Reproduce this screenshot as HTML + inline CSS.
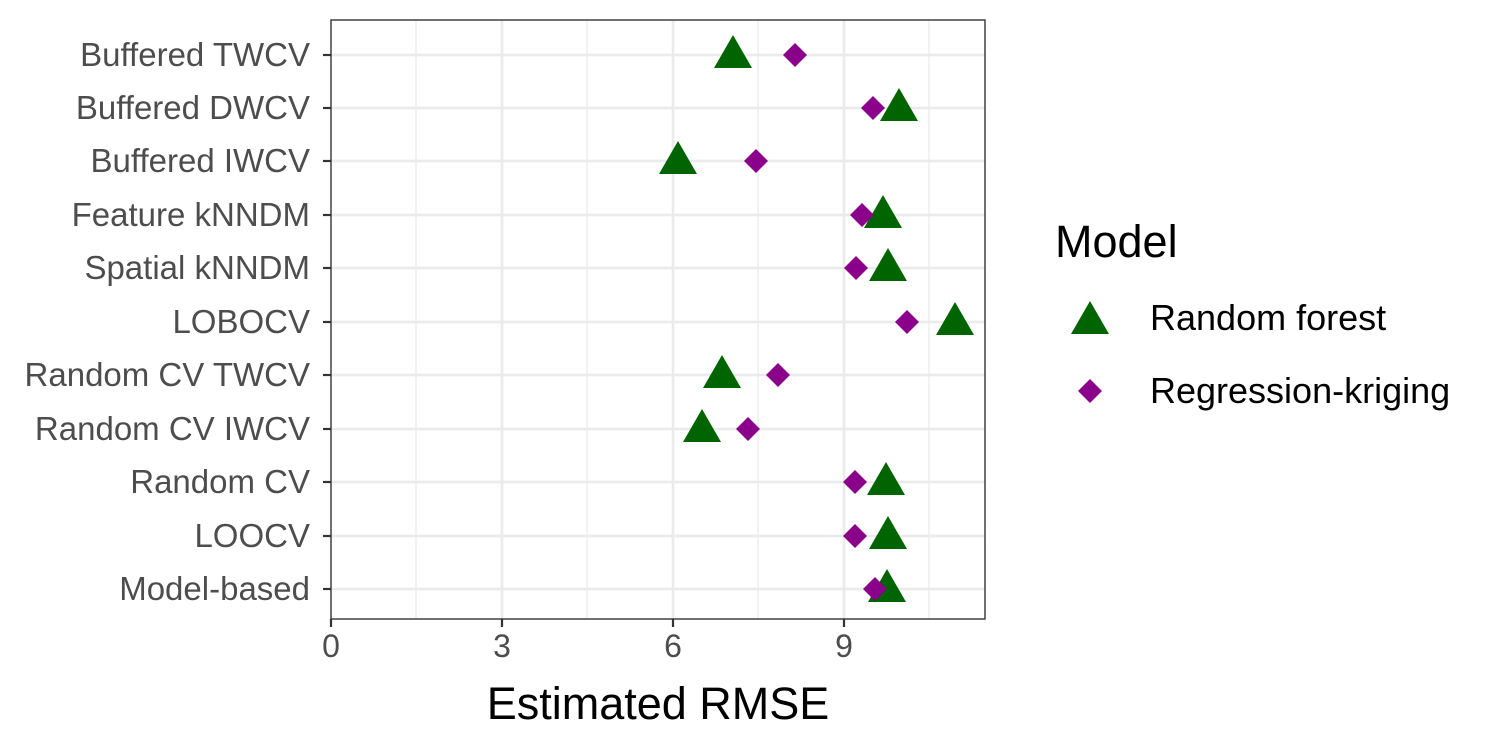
<!DOCTYPE html>
<html><head><style>body{margin:0;background:#fff}svg{display:block}</style></head><body>
<svg width="1500" height="750" xmlns="http://www.w3.org/2000/svg" font-family="Liberation Sans, Arial, sans-serif">
<rect width="1500" height="750" fill="#fff"/>
<g stroke="#ebebeb">
<g stroke-width="1.3"><line x1="416" y1="20" x2="416" y2="619"/><line x1="587" y1="20" x2="587" y2="619"/><line x1="758" y1="20" x2="758" y2="619"/><line x1="929" y1="20" x2="929" y2="619"/></g>
<g stroke-width="2.7"><line x1="502" y1="20" x2="502" y2="619"/><line x1="673" y1="20" x2="673" y2="619"/><line x1="844" y1="20" x2="844" y2="619"/>
<line x1="331" y1="55" x2="985" y2="55"/><line x1="331" y1="108" x2="985" y2="108"/><line x1="331" y1="161" x2="985" y2="161"/><line x1="331" y1="215" x2="985" y2="215"/><line x1="331" y1="268" x2="985" y2="268"/><line x1="331" y1="322" x2="985" y2="322"/><line x1="331" y1="375" x2="985" y2="375"/><line x1="331" y1="429" x2="985" y2="429"/><line x1="331" y1="482" x2="985" y2="482"/><line x1="331" y1="536" x2="985" y2="536"/><line x1="331" y1="589" x2="985" y2="589"/></g>
</g>
<defs>
<path id="t" d="M0,-20 L19,13 L-19,13 Z" fill="#006400"/>
<path id="d" d="M0,-12 L12,0 L0,12 L-12,0 Z" fill="#8b008b"/>
</defs>
<use href="#t" x="733" y="55"/><use href="#d" x="795" y="55"/>
<use href="#t" x="899" y="108"/><use href="#d" x="873" y="108"/>
<use href="#t" x="678" y="161"/><use href="#d" x="756" y="161"/>
<use href="#t" x="883" y="215"/><use href="#d" x="862" y="215"/>
<use href="#t" x="888" y="268"/><use href="#d" x="856" y="268"/>
<use href="#t" x="955" y="322"/><use href="#d" x="907" y="322"/>
<use href="#t" x="722" y="375"/><use href="#d" x="778" y="375"/>
<use href="#t" x="702" y="429"/><use href="#d" x="748" y="429"/>
<use href="#t" x="886" y="482"/><use href="#d" x="855" y="482"/>
<use href="#t" x="888" y="536"/><use href="#d" x="855" y="536"/>
<use href="#t" x="887" y="589"/><use href="#d" x="875" y="589"/>
<rect x="331" y="20" width="654" height="599" fill="none" stroke="#333" stroke-width="1.4"/>
<g stroke="#333" stroke-width="2.2">
<line x1="323" y1="55" x2="331" y2="55"/><line x1="323" y1="108" x2="331" y2="108"/><line x1="323" y1="161" x2="331" y2="161"/><line x1="323" y1="215" x2="331" y2="215"/><line x1="323" y1="268" x2="331" y2="268"/><line x1="323" y1="322" x2="331" y2="322"/><line x1="323" y1="375" x2="331" y2="375"/><line x1="323" y1="429" x2="331" y2="429"/><line x1="323" y1="482" x2="331" y2="482"/><line x1="323" y1="536" x2="331" y2="536"/><line x1="323" y1="589" x2="331" y2="589"/>
<line x1="331" y1="619" x2="331" y2="627"/><line x1="502" y1="619" x2="502" y2="627"/><line x1="673" y1="619" x2="673" y2="627"/><line x1="844" y1="619" x2="844" y2="627"/>
</g>
<g font-size="33" fill="#4d4d4d" text-anchor="end">
<text x="310" y="66">Buffered TWCV</text><text x="310" y="119">Buffered DWCV</text><text x="310" y="172">Buffered IWCV</text><text x="310" y="226">Feature kNNDM</text><text x="310" y="279">Spatial kNNDM</text><text x="310" y="333">LOBOCV</text><text x="310" y="386">Random CV TWCV</text><text x="310" y="440">Random CV IWCV</text><text x="310" y="493">Random CV</text><text x="310" y="547">LOOCV</text><text x="310" y="600">Model-based</text>
</g>
<g font-size="32" fill="#4d4d4d" text-anchor="middle">
<text x="331" y="657">0</text><text x="502" y="657">3</text><text x="673" y="657">6</text><text x="844" y="657">9</text>
</g>
<text x="658" y="719" font-size="45" text-anchor="middle" fill="#000">Estimated RMSE</text>
<text x="1055" y="257" font-size="45" fill="#000">Model</text>
<use href="#t" x="1090" y="321"/><use href="#d" x="1090" y="391"/>
<text x="1150" y="330" font-size="36" fill="#000">Random forest</text>
<text x="1150" y="403" font-size="36" fill="#000">Regression-kriging</text>
</svg>
</body></html>
